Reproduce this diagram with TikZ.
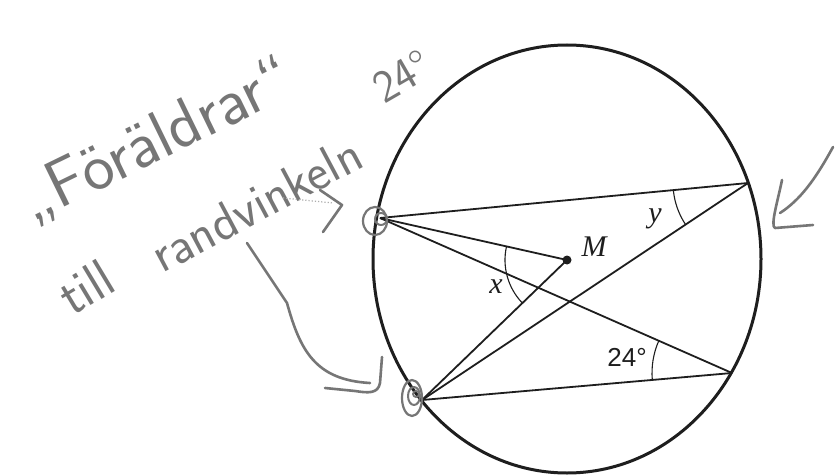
\documentclass[tikz,border=0pt]{standalone}
\usepackage{fontspec}
\setmainfont{Liberation Serif}
\newfontfamily\arialf{Liberation Sans}
\usetikzlibrary{angles}
\definecolor{ink}{RGB}{30,30,30}
\definecolor{hand}{RGB}{118,118,118}
\tikzset{
  rim/.style={ink, line width=3pt},
  chord/.style={ink, line width=1.8pt},
  anglemark/.style={draw=ink, line width=1.1pt, angle radius=#1},
  handline/.style={hand, line width=2.6pt, line cap=round, line join=round},
  handtext/.style={hand, inner sep=0pt},
  lbl/.style={ink, inner sep=0pt, font=\fontsize{30}{30}\selectfont\itshape},
  numlbl/.style={ink, inner sep=0pt, font=\arialf\fontsize{26}{26}\selectfont},
}
\begin{document}
\begin{tikzpicture}[x=1pt,y=1pt]
\useasboundingbox (0,0) rectangle (835,-476);
\fill[white] (0,0) rectangle (835,-476);
% circle
\coordinate (O) at (567,-259);
\draw[rim] (O) ellipse [x radius=194pt, y radius=214pt];
% points
\coordinate (M) at (567,-260);
\coordinate (A) at (380,-218);
\coordinate (B) at (422,-400);
\coordinate (C) at (748,-183);
\coordinate (D) at (732,-373);
% chords
\draw[chord] (A) -- (C);
\draw[chord] (A) -- (M);
\draw[chord] (A) -- (D);
\draw[chord] (B) -- (M);
\draw[chord] (B) -- (C);
\draw[chord] (B) -- (D);
\fill[ink] (M) circle [radius=4.5pt];
% angle marks
\pic[anglemark=62pt] {angle = A--M--B};
\pic[anglemark=80pt] {angle = A--D--B};
\pic[anglemark=75pt] {angle = A--C--B};
% labels
\node[lbl] (lM) at (594,-247) {M};
\node[lbl] (lx) at (496,-287) {x};
\node[lbl] (ly) at (655,-219) {y};
\node[numlbl] (l24) at (627,-357) {24°};
% handwriting
\node[handtext, rotate=26, font=\sffamily\fontsize{67}{67}\selectfont] (h1) at (157,-141) {„Föräldrar“};
\node[handtext, rotate=31, font=\sffamily\fontsize{54}{54}\selectfont] (h2a) at (86,-287) {till};
\node[handtext, rotate=28, font=\sffamily\fontsize{52}{52}\selectfont] (h2b) at (256,-204) {randvinkeln};
\node[handtext, rotate=30, font=\sffamily\fontsize{46}{46}\selectfont] (h2c) at (402,-76) {24°};
% hand marks around A and B
\draw[handline, line width=2.2pt] (375,-221) ellipse [x radius=12pt, y radius=14pt];
\draw[handline, line width=2pt] (381,-219) circle [radius=6pt];
\draw[handline, line width=2.2pt] (412,-398) ellipse [x radius=10pt, y radius=18pt];
\draw[handline, line width=2pt] (414,-396) ellipse [x radius=6pt, y radius=9pt];
\draw[handline, line width=1.8pt] (416,-394) circle [radius=3pt];
% arrow 1 (towards A)
\coordinate (a1s) at (283,-198);
\coordinate (a1e) at (333,-203);
\coordinate (a1h1) at (320,-190);
\coordinate (a1t) at (342,-205);
\coordinate (a1h2) at (323,-232);
\draw[hand!60, line width=1.2pt, dotted] (a1s) -- (a1e);
\draw[handline] (a1h1) -- (a1t) -- (a1h2);
% arrow 2 (towards B)
\coordinate (a2s) at (247,-243);
\coordinate (a2m) at (287,-303);
\coordinate (a2e) at (370,-383);
\coordinate (a2h1) at (382,-357);
\coordinate (a2h2) at (380,-383);
\coordinate (a2h3) at (325,-388);
\draw[handline] (a2s) -- (a2m) .. controls (300,-350) and (315,-380) .. (a2e);
\draw[handline] (a2h1) -- (a2h2) .. controls (378,-394) and (368,-393) .. (355,-391) -- (a2h3);
% arrow 3 (right)
\coordinate (a3s) at (833,-147);
\coordinate (a3e) at (780,-213);
\coordinate (a3h1) at (782,-180);
\coordinate (a3h2) at (775,-228);
\coordinate (a3h3) at (813,-225);
\draw[handline] (a3s) .. controls (815,-180) and (800,-200) .. (a3e);
\draw[handline] (a3h1) .. controls (778,-200) and (770,-226) .. (a3h2) -- (a3h3);
\end{tikzpicture}
\end{document}
